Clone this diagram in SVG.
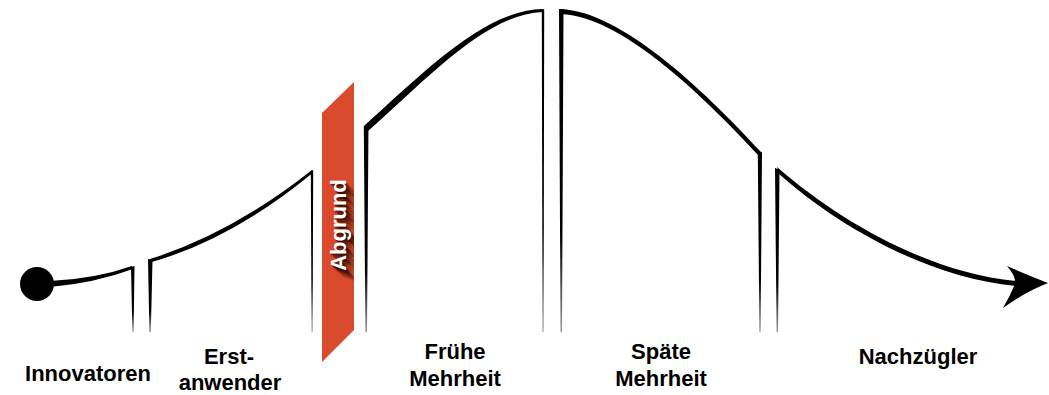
<svg xmlns="http://www.w3.org/2000/svg" width="1049" height="395" viewBox="0 0 1049 395">
  <defs>
    <linearGradient id="fade" x1="0" y1="0" x2="0" y2="1">
      <stop offset="0" stop-color="#000"/>
      <stop offset="0.7" stop-color="#000"/>
      <stop offset="1" stop-color="#999"/>
    </linearGradient>
    <clipPath id="barClip">
      <polygon points="322,113 354,82 354,330 322,362"/>
    </clipPath>
  </defs>
  <style>
    .ink { fill: #000; }
    .stem { fill: url(#fade); }
    .label { font-family: "Liberation Sans", Arial, sans-serif; font-weight: bold; font-size: 22px; fill: #000; text-anchor: middle; }
    .bar { fill: #DA4A2C; }
    .bartext { font-family: "Liberation Sans", Arial, sans-serif; font-weight: bold; font-size: 22px; fill: #fff; text-anchor: middle; }
    .shadow { font-family: "Liberation Sans", Arial, sans-serif; font-weight: bold; font-size: 22px; fill: #150400; text-anchor: middle; }
  </style>
  <rect width="1049" height="395" fill="#fff"/>

  <g id="innovatoren">
    <path class="ink" d="M50,281 Q95,279 132,266 L133,269 Q95,283 50,287 Z"/>
    <polygon class="stem" points="131,267 134.5,266 133.6,332 132.4,332"/>
    <text class="label" x="88" y="381">Innovatoren</text>
  </g>

  <g id="erstanwender">
    <polygon class="stem" points="148,259 152.5,260 150.8,332 149.4,332"/>
    <path class="ink" d="M150,259 Q231,234 312,170 L312,173.5 Q231,240 150,262.5 Z"/>
    <polygon class="stem" points="310.8,171 313.2,170 312.6,332 311.6,332"/>
    <text class="label" x="229" y="364">Erst-</text>
    <text class="label" x="230" y="390">anwender</text>
  </g>

  <g id="abgrund">
    <polygon class="bar" points="322,113 354,82 354,330 322,362"/>
    <g clip-path="url(#barClip)">
      <text class="shadow" opacity="0.55" transform="translate(347,227) rotate(-90)">Abgrund</text>
      <text class="shadow" opacity="0.45" transform="translate(349,229) rotate(-90)">Abgrund</text>
      <text class="shadow" opacity="0.35" transform="translate(351,231) rotate(-90)">Abgrund</text>
      <text class="shadow" opacity="0.25" transform="translate(353,233) rotate(-90)">Abgrund</text>
      <text class="shadow" opacity="0.18" transform="translate(355,235) rotate(-90)">Abgrund</text>
      <text class="shadow" opacity="0.12" transform="translate(357,237) rotate(-90)">Abgrund</text>
    </g>
    <text class="bartext" transform="translate(346,225) rotate(-90)">Abgrund</text>
  </g>

  <g id="fruehe-mehrheit">
    <polygon class="stem" points="363.8,126 368.5,123 367,332 365.4,332"/>
    <path class="ink" d="M365,125 C425,71 485,10 543,9 L543,12 C486,14 428,78 368,131 Z"/>
    <polygon class="stem" points="541.8,10 544.2,9 543.6,332 542.5,332"/>
    <text class="label" x="455" y="359">Frühe</text>
    <text class="label" x="455" y="386">Mehrheit</text>
  </g>

  <g id="spaete-mehrheit">
    <polygon class="stem" points="559,9 563.5,9 562,332 560.5,332"/>
    <path class="ink" d="M561,9 C621,12 701,87 761,152 L759,156 C698,90 619,16 561,14 Z"/>
    <polygon class="stem" points="757.8,153 762,152 760.6,332 759.4,332"/>
    <text class="label" x="661" y="359">Späte</text>
    <text class="label" x="661" y="386">Mehrheit</text>
  </g>

  <g id="nachzuegler">
    <polygon class="stem" points="775,168 779.5,170 778,332 776.6,332"/>
    <path class="ink" d="M777,167 C840,222 930,273 1016,281 L1016,286 C930,278 840,228 779,174 Z"/>
    <text class="label" x="918" y="364">Nachzügler</text>
  </g>

  <g id="connectors">
    <circle class="ink" cx="37" cy="284" r="17"/>
    <path class="ink" d="M1048,283 Q1025,274 1007,266 Q1016,276 1015,284 Q1010,296 1003,308 Q1025,292 1048,283 Z"/>
  </g>
</svg>
